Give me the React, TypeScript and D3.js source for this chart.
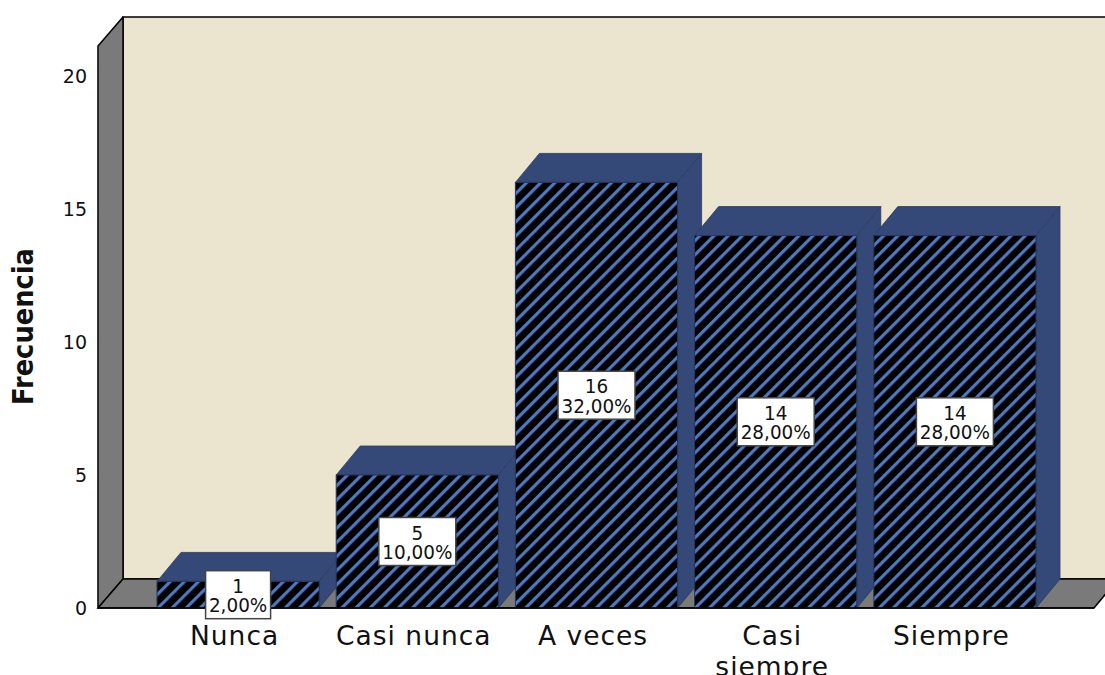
import * as d3 from "d3";

const categories = ["Nunca", "Casi nunca", "A veces", "Casi siempre", "Siempre"];
const categoryLines = [["Nunca"], ["Casi nunca"], ["A veces"], ["Casi", "siempre"], ["Siempre"]];
const frequencies = [1, 5, 16, 14, 14];
const percentLabels = ["2,00%", "10,00%", "32,00%", "28,00%", "28,00%"];
const yTicks = [0, 5, 10, 15, 20];

const W = 1105;
const H = 675;
const DX = 24;
const DY = 29;
const WALL_LEFT = 98;
const FLOOR_RIGHT = 1094;
const FONT = "'DejaVu Sans', Verdana, sans-serif";

const y = d3.scaleLinear().domain([0, 20]).range([608, 76]);
const x = d3.scaleBand<string>().domain(categories).range([157, 1036]).paddingInner(0.095).paddingOuter(0);

const poly = (pts: [number, number][]) => pts.map((p) => p.join(",")).join(" ");

export default function App() {
  const base = y(0);
  const wallTop = 46;
  return (
    <svg
      width={W}
      height={H}
      viewBox={`0 0 ${W} ${H}`}
      style={{ position: "absolute", left: 0, top: 0, display: "block" }}
    >
      <defs>
        <pattern id="hatch" width={10} height={10} patternUnits="userSpaceOnUse" patternTransform="rotate(-45)">
          <rect width={10} height={10} fill="#000" />
          <rect width={10} height={3.2} y={0} fill="#5078c2" />
        </pattern>
      </defs>
      <rect width={W} height={H} fill="#fff" />

      {/* back wall, left wall and floor of the 3D box */}
      <polygon
        points={poly([[WALL_LEFT + DX + 1, wallTop - DY], [W + 5, wallTop - DY], [W + 5, base - DY], [WALL_LEFT + DX + 1, base - DY]])}
        fill="#ebe5d0"
        stroke="#000"
        strokeWidth={1.5}
      />
      <polygon
        points={poly([[WALL_LEFT, wallTop], [WALL_LEFT + DX + 1, wallTop - DY], [WALL_LEFT + DX + 1, base - DY], [WALL_LEFT, base]])}
        fill="#7a7a7a"
        stroke="#000"
        strokeWidth={1.5}
        strokeLinejoin="round"
      />
      <polygon
        points={poly([[WALL_LEFT, base], [WALL_LEFT + DX + 1, base - DY], [FLOOR_RIGHT + DX, base - DY], [FLOOR_RIGHT, base]])}
        fill="#7a7a7a"
        stroke="#000"
        strokeWidth={1.5}
      />

      {/* bars */}
      {categories.map((c, i) => {
        const x0 = x(c)!;
        const x1 = x0 + x.bandwidth();
        const top = y(frequencies[i]);
        return (
          <g key={c}>
            <polygon
              points={poly([[x0, top], [x0 + DX, top - DY], [x1 + DX, top - DY], [x1, top]])}
              fill="#344977"
              stroke="#2a3a60"
              strokeWidth={0.8}
            />
            <polygon
              points={poly([[x1, top], [x1 + DX, top - DY], [x1 + DX, base - DY], [x1, base]])}
              fill="#344977"
              stroke="#2a3a60"
              strokeWidth={0.8}
            />
            <rect x={x0} y={top} width={x1 - x0} height={base - top} fill="url(#hatch)" stroke="#26365c" strokeWidth={1} />
          </g>
        );
      })}
      <line x1={WALL_LEFT} x2={FLOOR_RIGHT} y1={base} y2={base} stroke="#000" strokeWidth={1.5} />

      {/* value boxes */}
      {categories.map((c, i) => {
        const cx = x(c)! + x.bandwidth() / 2;
        const cy = (y(frequencies[i]) + base) / 2;
        const boxW = percentLabels[i].length > 5 ? 77 : 65;
        return (
          <g key={c}>
            <rect x={cx - boxW / 2} y={cy - 24} width={boxW} height={48} fill="#fff" stroke="#444" strokeWidth={1.5} />
            <g
              transform={`translate(${cx},${cy}) scale(0.92,1)`}
              fontFamily={FONT}
              fontSize={20}
              textAnchor="middle"
              fill="#111"
            >
              <text y={-2}>{frequencies[i]}</text>
              <text y={17.5}>{percentLabels[i]}</text>
            </g>
          </g>
        );
      })}

      {/* y axis labels */}
      {yTicks.map((t) => (
        <text key={t} x={87} y={y(t) + 7} textAnchor="end" fontFamily={FONT} fontSize={19} fill="#111">
          {t}
        </text>
      ))}
      <text
        transform="translate(33,405) rotate(-90)"
        fontFamily={FONT}
        fontSize={29}
        fontWeight="bold"
        textLength={157}
        lengthAdjust="spacingAndGlyphs"
        fill="#111"
      >
        Frecuencia
      </text>

      {/* category labels */}
      {categories.map((c, i) =>
        categoryLines[i].map((line, k) => (
          <text
            key={line}
            x={x(c)! + x.bandwidth() / 2 - 3.5}
            y={645 + k * 31}
            textAnchor="middle"
            fontFamily={FONT}
            fontSize={26.5}
            letterSpacing={1}
            fill="#111"
          >
            {line}
          </text>
        ))
      )}
    </svg>
  );
}
